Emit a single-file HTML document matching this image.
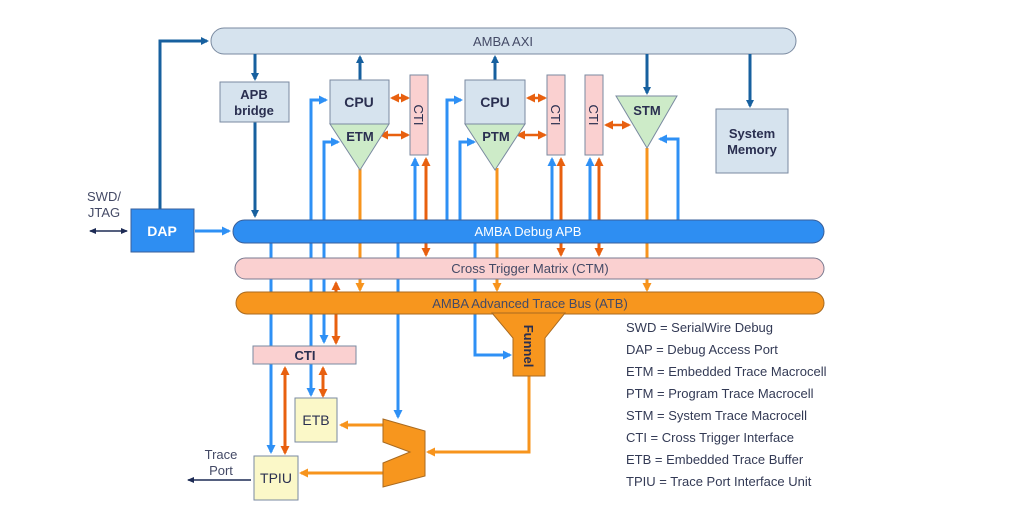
<!DOCTYPE html>
<html><head><style>
html,body{margin:0;padding:0;background:#fff;}
svg{display:block;font-family:"Liberation Sans",sans-serif;}
</style></head><body>
<svg width="1028" height="527" viewBox="0 0 1028 527" xmlns="http://www.w3.org/2000/svg">
<defs>
<marker id="dk" markerWidth="8" markerHeight="8" refX="6" refY="4" orient="auto-start-reverse" markerUnits="userSpaceOnUse"><path d="M0,0 L8,4 L0,8 Z" fill="#17609f"/></marker>
<marker id="nv" markerWidth="7" markerHeight="6" refX="6" refY="3" orient="auto-start-reverse" markerUnits="userSpaceOnUse"><path d="M0,0 L7,3 L0,6 Z" fill="#1d2b55"/></marker>
<marker id="lb" markerWidth="9" markerHeight="9" refX="7" refY="4.5" orient="auto-start-reverse" markerUnits="userSpaceOnUse"><path d="M0,0 L9,4.5 L0,9 Z" fill="#2e90f5"/></marker>
<marker id="or" markerWidth="9" markerHeight="9" refX="7" refY="4.5" orient="auto-start-reverse" markerUnits="userSpaceOnUse"><path d="M0,0 L9,4.5 L0,9 Z" fill="#f7941d"/></marker>
<marker id="do" markerWidth="9" markerHeight="9" refX="7" refY="4.5" orient="auto-start-reverse" markerUnits="userSpaceOnUse"><path d="M0,0 L9,4.5 L0,9 Z" fill="#e8600f"/></marker>
</defs>

<g stroke="#2e90f5" stroke-width="3" fill="none">
<path d="M271,243 V452" marker-end="url(#lb)"/>
<path d="M311,243 V395" marker-end="url(#lb)"/>
<path d="M324,243 V342" marker-end="url(#lb)"/>
<path d="M398,243 V417" marker-end="url(#lb)"/>
<path d="M475,243 V355 H510" marker-end="url(#lb)"/>
<path d="M311,222 V100 H326" marker-end="url(#lb)"/>
<path d="M324,222 V142 H338" marker-end="url(#lb)"/>
<path d="M447,222 V100 H461" marker-end="url(#lb)"/>
<path d="M460,222 V142 H474" marker-end="url(#lb)"/>
<path d="M415,222 V159" marker-end="url(#lb)"/>
<path d="M552,222 V159" marker-end="url(#lb)"/>
<path d="M590,222 V159" marker-end="url(#lb)"/>
<path d="M678,222 V139 H660" marker-end="url(#lb)"/>
</g>
<g stroke="#f7941d" stroke-width="3" fill="none">
<path d="M360,168 V290" marker-end="url(#or)"/>
<path d="M497,168 V290" marker-end="url(#or)"/>
<path d="M647,148 V290" marker-end="url(#or)"/>
<path d="M529,376 V452 H428" marker-end="url(#or)"/>
<path d="M383,425 H341" marker-end="url(#or)"/>
<path d="M383,473 H301" marker-end="url(#or)"/>
</g>
<g stroke="#e8600f" stroke-width="3" fill="none">
<path d="M426,159 V255" marker-start="url(#do)" marker-end="url(#do)"/>
<path d="M561,159 V255" marker-start="url(#do)" marker-end="url(#do)"/>
<path d="M599,159 V255" marker-start="url(#do)" marker-end="url(#do)"/>
<path d="M336,283 V343" marker-start="url(#do)" marker-end="url(#do)"/>
<path d="M323,368 V396" marker-start="url(#do)" marker-end="url(#do)"/>
<path d="M285,368 V453" marker-start="url(#do)" marker-end="url(#do)"/>
<path d="M392,98 H408" stroke-width="2.5" marker-start="url(#do)" marker-end="url(#do)"/>
<path d="M381,135 H408" stroke-width="2.5" marker-start="url(#do)" marker-end="url(#do)"/>
<path d="M528,98 H545" stroke-width="2.5" marker-start="url(#do)" marker-end="url(#do)"/>
<path d="M518,135 H545" stroke-width="2.5" marker-start="url(#do)" marker-end="url(#do)"/>
<path d="M606,125 H629" stroke-width="2.5" marker-start="url(#do)" marker-end="url(#do)"/>
</g>

<rect x="211" y="28" width="585" height="26" rx="13" fill="#d6e3ee" stroke="#7a8aa0" stroke-width="1"/>
<text x="503" y="46" font-size="13" fill="#444a66" text-anchor="middle">AMBA AXI</text>
<rect x="233" y="220" width="591" height="23" rx="11.5" fill="#2e8ef2" stroke="#3a5f99" stroke-width="1"/>
<text x="528" y="236" font-size="13" fill="#fff" text-anchor="middle">AMBA Debug APB</text>
<rect x="235" y="258" width="589" height="21" rx="10.5" fill="#fad0d0" stroke="#7a7a90" stroke-width="1"/>
<text x="530" y="273" font-size="13" fill="#444a66" text-anchor="middle">Cross Trigger Matrix (CTM)</text>
<rect x="236" y="292" width="588" height="22" rx="11" fill="#f7961e" stroke="#a86a20" stroke-width="1"/>
<text x="530" y="308" font-size="13" fill="#444a66" text-anchor="middle">AMBA  Advanced Trace Bus (ATB)</text>

<g stroke="#17609f" stroke-width="3" fill="none">
<path d="M160,209 V41 H207" marker-end="url(#dk)"/>
<path d="M255,54 V79" marker-end="url(#dk)"/>
<path d="M255,122 V216" marker-end="url(#dk)"/>
<path d="M360,80 V57" marker-end="url(#dk)"/>
<path d="M495,80 V57" marker-end="url(#dk)"/>
<path d="M647,54 V93" marker-end="url(#dk)"/>
<path d="M750,54 V106" marker-end="url(#dk)"/>
</g>
<path d="M195,231 H229" stroke="#2e90f5" stroke-width="3" marker-end="url(#lb)"/>
<path d="M90,231 H127" stroke="#1d2b55" stroke-width="1.5" marker-start="url(#nv)" marker-end="url(#nv)"/>
<path d="M251,480 H188" stroke="#1d2b55" stroke-width="1.5" marker-end="url(#nv)"/>

<rect x="131" y="209" width="63" height="43" fill="#2e8ef2" stroke="#3a5f99"/>
<text x="162" y="236" font-size="14" font-weight="bold" fill="#fff" text-anchor="middle">DAP</text>
<text x="104" y="201" font-size="13" fill="#444a66" text-anchor="middle">SWD/</text>
<text x="104" y="217" font-size="13" fill="#444a66" text-anchor="middle">JTAG</text>

<rect x="220" y="82" width="69" height="40" fill="#d6e3ee" stroke="#7a8aa0"/>
<text x="254" y="99" font-size="13" font-weight="bold" fill="#2a2f50" text-anchor="middle">APB</text>
<text x="254" y="115" font-size="13" font-weight="bold" fill="#2a2f50" text-anchor="middle">bridge</text>

<polygon points="330,124 389,124 360,170" fill="#cdebc8" stroke="#7a8aa0"/>
<rect x="330" y="80" width="59" height="44" fill="#d6e3ee" stroke="#7a8aa0"/>
<text x="359" y="107" font-size="14" font-weight="bold" fill="#2a2f50" text-anchor="middle">CPU</text>
<text x="360" y="141" font-size="13" font-weight="bold" fill="#2a2f50" text-anchor="middle">ETM</text>
<polygon points="465,124 525,124 495,170" fill="#cdebc8" stroke="#7a8aa0"/>
<rect x="465" y="80" width="60" height="44" fill="#d6e3ee" stroke="#7a8aa0"/>
<text x="495" y="107" font-size="14" font-weight="bold" fill="#2a2f50" text-anchor="middle">CPU</text>
<text x="496" y="141" font-size="13" font-weight="bold" fill="#2a2f50" text-anchor="middle">PTM</text>
<polygon points="616,96 677,96 647,148" fill="#cdebc8" stroke="#7a8aa0"/>
<text x="647" y="115" font-size="13" font-weight="bold" fill="#2a2f50" text-anchor="middle">STM</text>

<g fill="#fad0d0" stroke="#7a8aa0">
<rect x="410" y="75" width="18" height="80"/>
<rect x="547" y="75" width="18" height="80"/>
<rect x="585" y="75" width="18" height="80"/>
</g>
<g font-size="13" fill="#2a2f50" text-anchor="middle">
<text transform="translate(419,115) rotate(90)" y="5">CTI</text>
<text transform="translate(556,115) rotate(90)" y="5">CTI</text>
<text transform="translate(594,115) rotate(90)" y="5">CTI</text>
</g>

<rect x="716" y="109" width="72" height="64" fill="#d6e3ee" stroke="#7a8aa0"/>
<text x="752" y="138" font-size="13" font-weight="bold" fill="#2a2f50" text-anchor="middle">System</text>
<text x="752" y="154" font-size="13" font-weight="bold" fill="#2a2f50" text-anchor="middle">Memory</text>

<polygon points="492,313 565,313 545,338 545,376 513,376 513,338" fill="#f7961e" stroke="#a86a20"/>
<text transform="translate(529,346) rotate(90)" y="5" font-size="13" font-weight="bold" fill="#2a2f50" text-anchor="middle">Funnel</text>

<rect x="253" y="346" width="103" height="18" fill="#fad0d0" stroke="#7a8aa0"/>
<text x="305" y="360" font-size="13" font-weight="bold" fill="#2a2f50" text-anchor="middle">CTI</text>

<rect x="295" y="398" width="42" height="44" fill="#fbf8c8" stroke="#7a8aa0"/>
<text x="316" y="425" font-size="14" fill="#2a2f50" text-anchor="middle">ETB</text>
<rect x="254" y="456" width="44" height="44" fill="#fbf8c8" stroke="#7a8aa0"/>
<text x="276" y="483" font-size="14" fill="#2a2f50" text-anchor="middle">TPIU</text>
<text x="221" y="459" font-size="13" fill="#444a66" text-anchor="middle">Trace</text>
<text x="221" y="475" font-size="13" fill="#444a66" text-anchor="middle">Port</text>

<polygon points="383,419 425,431 425,476 383,487 383,463 410,452 383,442" fill="#f7961e" stroke="#a86a20"/>

<g font-size="13" fill="#333a55">
<text x="626" y="332">SWD = SerialWire Debug</text>
<text x="626" y="354">DAP = Debug Access Port</text>
<text x="626" y="376">ETM = Embedded  Trace Macrocell</text>
<text x="626" y="398">PTM = Program Trace Macrocell</text>
<text x="626" y="420">STM = System Trace Macrocell</text>
<text x="626" y="442">CTI = Cross Trigger Interface</text>
<text x="626" y="464">ETB = Embedded  Trace Buffer</text>
<text x="626" y="486">TPIU = Trace Port Interface Unit</text>
</g>
</svg>
</body></html>
